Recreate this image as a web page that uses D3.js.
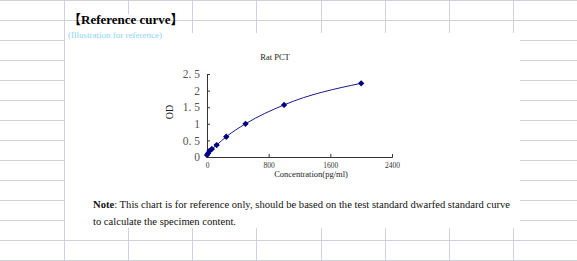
<!DOCTYPE html>
<html>
<head>
<meta charset="utf-8">
<script src="https://cdn.jsdelivr.net/npm/d3@7/dist/d3.min.js"></script>
<style>
  body { margin: 0; background: #fff; }
  svg { display: block; }
</style>
</head>
<body>
<div class="div1"></div>
<script>
// standard curve readings
const concentrations = [0, 15.6, 31.25, 62.5, 125, 250, 500, 1000, 2000];
const odValues = [0.06, 0.11, 0.18, 0.24, 0.36, 0.61, 1.0, 1.57, 2.22];
const yTicks = [0, 0.5, 1, 1.5, 2, 2.5];
const yTickLabels = ["0", "0. 5", "1", "1. 5", "2", "2. 5"];
const xTicks = [0, 800, 1600, 2400];

function drawSheet() {
  const W = 577, H = 261;
  const serif = "'Liberation Serif', 'Times New Roman', serif";
  const svg = d3.select(".div1").append("svg")
    .attr("width", W)
    .attr("height", H);

  // spreadsheet grid behind the picture
  const gridColor = "#cfd2dc";
  const colW = 64.1;
  const grid = svg.append("g").attr("stroke", gridColor).attr("stroke-width", 1);
  for (let y = 0; y <= 260; y += 20) {
    const yy = y + 0.5;
    if (y <= 20 || y >= 240) {
      grid.append("line").attr("x1", 0).attr("x2", W).attr("y1", yy).attr("y2", yy);
    } else {
      grid.append("line").attr("x1", 0).attr("x2", 64).attr("y1", yy).attr("y2", yy);
      grid.append("line").attr("x1", 520).attr("x2", W).attr("y1", yy).attr("y2", yy);
    }
  }
  for (let i = 1; i <= 8; i++) {
    const xx = Math.round(colW * i) + 0.5;
    if (i === 1) {
      grid.append("line").attr("x1", xx).attr("x2", xx).attr("y1", 0).attr("y2", H);
    } else {
      const top = i === 2 ? 14 : 33;
      grid.append("line").attr("x1", xx).attr("x2", xx).attr("y1", 0).attr("y2", top);
      grid.append("line").attr("x1", xx).attr("x2", xx).attr("y1", 228).attr("y2", H);
    }
  }

  // header
  svg.append("text")
    .attr("x", 68).attr("y", 24)
    .attr("font-family", serif + ", 'Noto Sans CJK SC'")
    .attr("font-weight", "bold")
    .attr("font-size", "13px")
    .attr("fill", "#000")
    .text("【Reference curve】");

  svg.append("text")
    .attr("x", 68).attr("y", 38)
    .attr("font-family", serif)
    .attr("font-size", "9px")
    .attr("fill", "#8fd3f0")
    .attr("textLength", 94)
    .attr("lengthAdjust", "spacingAndGlyphs")
    .text("(Illustration for reference)");

  // chart
  const x0 = 207, x1 = 392, y0 = 157, y1 = 74;
  const x = d3.scaleLinear().domain([0, 2400]).range([x0, x1]);
  const y = d3.scaleLinear().domain([0, 2.5]).range([y0, y1]);

  svg.append("text")
    .attr("x", 275).attr("y", 60)
    .attr("text-anchor", "middle")
    .attr("font-family", serif)
    .attr("font-size", "8.5px")
    .attr("fill", "#222")
    .text("Rat PCT");

  const leftAxis = d3.axisLeft(y)
    .tickValues(yTicks)
    .tickSize(-3)
    .tickPadding(7)
    .tickFormat((d, i) => yTickLabels[i]);
  const ga = svg.append("g")
    .attr("transform", "translate(" + x0 + ",0)")
    .call(leftAxis);
  ga.select(".domain").attr("stroke", "#333");
  ga.selectAll(".tick line").attr("stroke", "#333");
  ga.selectAll("text")
    .attr("font-family", serif)
    .attr("font-size", "11.5px")
    .attr("fill", "#555");

  const bottomAxis = d3.axisBottom(x)
    .tickValues(xTicks)
    .tickSize(-3)
    .tickPadding(6)
    .tickFormat(d3.format("d"));
  const gb = svg.append("g")
    .attr("transform", "translate(0," + y0 + ")")
    .call(bottomAxis);
  gb.select(".domain").attr("stroke", "#333");
  gb.selectAll(".tick line").attr("stroke", "#333");
  gb.selectAll("text")
    .attr("font-family", serif)
    .attr("font-size", "7.5px")
    .attr("fill", "#333");

  svg.append("text")
    .attr("x", 311).attr("y", 177)
    .attr("text-anchor", "middle")
    .attr("font-family", serif)
    .attr("font-size", "8.5px")
    .attr("fill", "#222")
    .text("Concentration(pg/ml)");

  svg.append("text")
    .attr("transform", "translate(173,112) rotate(-90)")
    .attr("text-anchor", "middle")
    .attr("font-family", serif)
    .attr("font-size", "10px")
    .attr("fill", "#222")
    .text("OD");

  const pts = concentrations.map((c, i) => ({ c: c, od: odValues[i] }));
  const line = d3.line()
    .x(d => x(d.c))
    .y(d => y(d.od))
    .curve(d3.curveMonotoneX);
  svg.append("path")
    .datum(pts)
    .attr("d", line)
    .attr("fill", "none")
    .attr("stroke", "#1a1a8c")
    .attr("stroke-width", 1);

  svg.selectAll(null)
    .data(pts)
    .enter()
    .append("path")
    .attr("d", d3.symbol().type(d3.symbolSquare).size(20))
    .attr("transform", d => "translate(" + x(d.c) + "," + y(d.od) + ") rotate(45)")
    .attr("fill", "#000080");

  // note below the picture
  const note = svg.append("text")
    .attr("x", 93).attr("y", 208)
    .attr("font-family", serif)
    .attr("font-size", "10.6px")
    .attr("fill", "#111")
    .attr("textLength", 417)
    .attr("lengthAdjust", "spacingAndGlyphs");
  note.append("tspan").attr("font-weight", "bold").text("Note");
  note.append("tspan").text(": This chart is for reference only, should be based on the test standard dwarfed standard curve");

  svg.append("text")
    .attr("x", 93).attr("y", 225)
    .attr("font-family", serif)
    .attr("font-size", "10.6px")
    .attr("fill", "#111")
    .attr("textLength", 143)
    .attr("lengthAdjust", "spacingAndGlyphs")
    .text("to calculate the specimen content.");
}

drawSheet();
</script>
</body>
</html>
